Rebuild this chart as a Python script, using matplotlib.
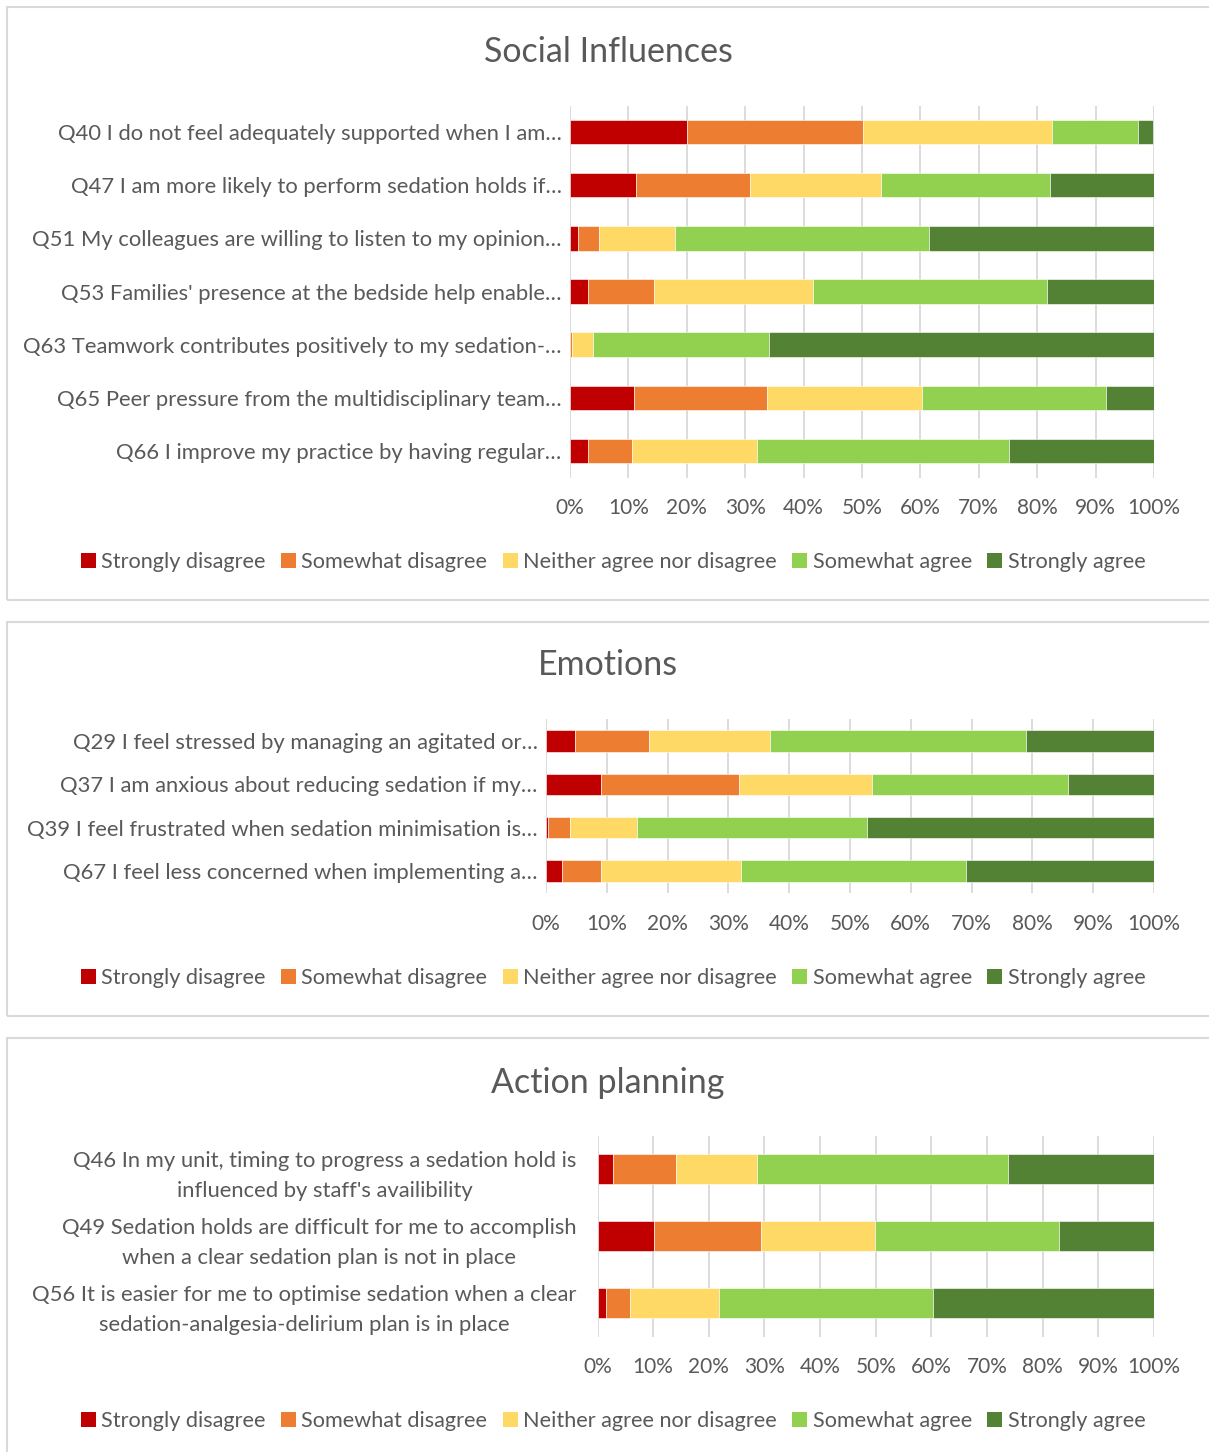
import matplotlib
matplotlib.use("Agg")
import matplotlib.pyplot as plt
from matplotlib.patches import Rectangle, Patch
import numpy as np

plt.rcParams['font.family'] = ['Lato', 'DejaVu Sans']

W, H = 1209, 1452

categories_legend = ["Strongly disagree", "Somewhat disagree", "Neither agree nor disagree",
                     "Somewhat agree", "Strongly agree"]
colors = ["#C00000", "#ED7D31", "#FFD966", "#92D050", "#548235"]

# Panel 1: Social Influences
social_labels = [
    "Q40 I do not feel adequately supported when I am…",
    "Q47 I am more likely to perform sedation holds if…",
    "Q51 My colleagues are willing to listen to my opinion…",
    "Q53 Families' presence at the bedside help enable…",
    "Q63 Teamwork contributes positively to my sedation-…",
    "Q65 Peer pressure from the multidisciplinary team…",
    "Q66 I improve my practice by having regular…",
]
social_sd = [20.0, 11.3, 1.4, 3.1, 0.0, 11.0, 3.1]
social_swd = [30.2, 19.6, 3.6, 11.2, 0.3, 22.7, 7.5]
social_n = [32.3, 22.3, 12.9, 27.3, 3.6, 26.6, 21.5]
social_swa = [14.7, 29.0, 43.6, 40.1, 30.2, 31.4, 43.0]
social_sa = [2.7, 17.8, 38.5, 18.3, 65.9, 8.3, 24.9]

# Panel 2: Emotions
emotion_labels = [
    "Q29 I feel stressed by managing an agitated or…",
    "Q37 I am anxious about reducing sedation if my…",
    "Q39 I feel frustrated when sedation minimisation is…",
    "Q67 I feel less concerned when implementing a…",
]
emotion_sd = [4.7, 9.1, 0.3, 2.6]
emotion_swd = [12.3, 22.6, 3.6, 6.5]
emotion_n = [19.9, 21.9, 11.1, 23.0]
emotion_swa = [42.1, 32.2, 37.8, 37.0]
emotion_sa = [21.0, 14.2, 47.2, 30.9]

# Panel 3: Action planning
action_labels = [
    "Q46 In my unit, timing to progress a sedation hold is\ninfluenced by staff's availibility",
    "Q49 Sedation holds are difficult for me to accomplish\nwhen a clear sedation plan is not in place",
    "Q56 It is easier for me to optimise sedation when a clear\nsedation-analgesia-delirium plan is in place",
]
action_sd = [2.7, 10.2, 1.5]
action_swd = [11.4, 19.1, 4.3]
action_n = [14.5, 20.6, 16.0]
action_swa = [45.2, 33.1, 38.5]
action_sa = [26.2, 17.0, 39.7]

xticks = [0, 10, 20, 30, 40, 50, 60, 70, 80, 90, 100]
xticklabels = [f"{t}%" for t in xticks]

TXT = "#595959"
GRID = "#D9D9D9"
LABEL_FS = 15.8

fig = plt.figure(figsize=(W / 100, H / 100), dpi=100)
fig.patch.set_facecolor("white")


def rect_px(l, t, r, b):
    return [l / W, 1 - b / H, (r - l) / W, (b - t) / H]


# panel borders
for (t, b) in [(7, 600), (622, 1016), (1038, 1470)]:
    fig.patches.append(Rectangle((7 / W, 1 - b / H), (1240 - 7) / W, (b - t) / H,
                                 transform=fig.transFigure, fill=False,
                                 edgecolor=GRID, linewidth=1.5, zorder=0))


def panel(axrect, labels, series, title, title_y, legend_y, bar_h, ypad):
    ax = fig.add_axes(rect_px(*axrect))
    n = len(labels)
    y = np.arange(n)
    left = np.zeros(n)
    for vals, c in zip(series, colors):
        vals = np.array(vals, dtype=float)
        ax.barh(y, vals, left=left, height=bar_h, color=c, edgecolor='white',
                linewidth=0.4, zorder=3)
        left = left + vals
    ax.set_xlim(0, 100)
    ax.set_ylim(n - 0.5, -0.5)
    ax.set_xticks(xticks)
    ax.set_xticklabels(xticklabels)
    ax.set_yticks(y)
    ax.set_yticklabels(labels, multialignment='center', linespacing=1.6)
    ax.tick_params(axis='x', length=0, pad=15, labelsize=15, labelcolor=TXT)
    ax.tick_params(axis='y', length=0, pad=ypad, labelsize=LABEL_FS, labelcolor=TXT)
    for s in ax.spines.values():
        s.set_visible(False)
    ax.grid(axis='x', color=GRID, linewidth=1.3, zorder=0)
    ax.set_axisbelow(True)
    fig.text(608 / W, 1 - title_y / H, title, ha='center', va='center',
             fontsize=24.5, color=TXT)
    handles = [Patch(facecolor=c, edgecolor='none', label=l)
               for c, l in zip(colors, categories_legend)]
    fig.legend(handles=handles, loc='center', bbox_to_anchor=(613 / W, 1 - legend_y / H),
               ncol=5, frameon=False, fontsize=15.6, handlelength=0.7, handleheight=0.7,
               handletextpad=0.25, columnspacing=0.7, labelcolor=TXT)
    return ax


panel((570, 105.5, 1154, 477.5), social_labels,
      [social_sd, social_swd, social_n, social_swa, social_sa],
      "Social Influences", 52, 562, 0.46, 6)
panel((546, 719.3, 1154, 892.7), emotion_labels,
      [emotion_sd, emotion_swd, emotion_n, emotion_swa, emotion_sa],
      "Emotions", 665, 978, 0.49, 6)
panel((597.5, 1135.5, 1154, 1336.5), action_labels,
      [action_sd, action_swd, action_n, action_swa, action_sa],
      "Action planning", 1083, 1421, 0.45, 15)

fig.savefig("out.png", dpi=100, facecolor="white")
